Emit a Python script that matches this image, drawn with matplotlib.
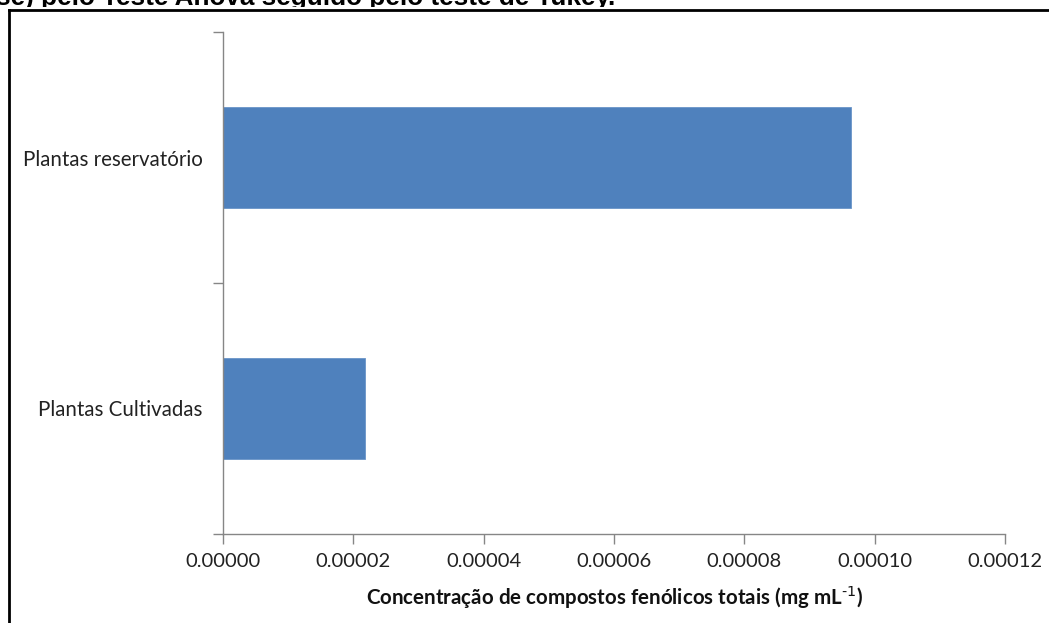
import matplotlib
matplotlib.use("Agg")
import matplotlib.pyplot as plt
from matplotlib.lines import Line2D
from matplotlib.patches import Rectangle

# Data
categories = ["Plantas Cultivadas", "Plantas reservatório"]
values = [0.0000218, 0.0000964]
xticks = [0.0, 0.00002, 0.00004, 0.00006, 0.00008, 0.00010, 0.00012]
xtick_labels = ["0.00000", "0.00002", "0.00004", "0.00006", "0.00008", "0.00010", "0.00012"]

W, H = 1049, 623
fig = plt.figure(figsize=(W / 100, H / 100), dpi=100)
fig.patch.set_facecolor("white")

# axes in pixel coordinates: x 223..1005, y 32..534 (from top)
left, right, top, bottom = 223, 1005, 32, 534
ax = fig.add_axes([left / W, 1 - bottom / H, (right - left) / W, (bottom - top) / H])

bar_color = "#4F81BD"
ypos = [0, 1]
ax.barh(ypos, values, height=0.4, color=bar_color, edgecolor="#6A94C8", linewidth=0.6)

ax.set_xlim(0, 0.00012)
ax.set_ylim(-0.5, 1.5)

spine_c = "#868686"
for s in ["top", "right"]:
    ax.spines[s].set_visible(False)
for s in ["left", "bottom"]:
    ax.spines[s].set_color(spine_c)
    ax.spines[s].set_linewidth(1.0)

font = ["Lato", "DejaVu Sans"]
ax.set_xticks(xticks)
ax.set_xticklabels(xtick_labels, fontsize=14.5, family=font, color="#222222")
ax.tick_params(axis="x", direction="out", length=7, width=1, color=spine_c, pad=7)

# category boundaries as major ticks, labels at centres
ax.set_yticks([-0.5, 0.5, 1.5])
ax.set_yticklabels(["", "", ""])
ax.set_yticks(ypos, minor=True)
ax.set_yticklabels(categories, minor=True, fontsize=14.8, family=font, color="#222222")
ax.tick_params(axis="y", which="major", direction="out", length=7, width=1, color=spine_c)
ax.tick_params(axis="y", which="minor", length=0, pad=14.5)

ax.set_xlabel("Concentração de compostos fenólicos totais (mg mL$^{\\text{-1}}$)",
              fontsize=14.8, fontweight="bold", family=font, labelpad=9, color="#111111")

# outer frame (left and top edges)
fig.add_artist(Line2D([9 / W, 9 / W], [0, 1 - 10 / H], transform=fig.transFigure,
                      color="black", linewidth=2))
fig.add_artist(Line2D([9 / W, 1], [1 - 10 / H, 1 - 10 / H], transform=fig.transFigure,
                      color="black", linewidth=2))

# caption fragment running above the frame, only its lower strip shows
cap = fig.text(-4 / W, 1 - 5.5 / H, "se) pelo Teste Anova seguido pelo teste de Tukey.",
               fontsize=18.8, fontweight="bold", family=["Liberation Sans", "DejaVu Sans"],
               ha="left", va="baseline", color="black")
clip = Rectangle((0, 1 - 7 / H), 1, 7 / H, transform=fig.transFigure, visible=False)
fig.add_artist(clip)
cap.set_clip_path(clip)
cap.set_clip_on(True)

fig.savefig("out.png", dpi=100, facecolor="white")
